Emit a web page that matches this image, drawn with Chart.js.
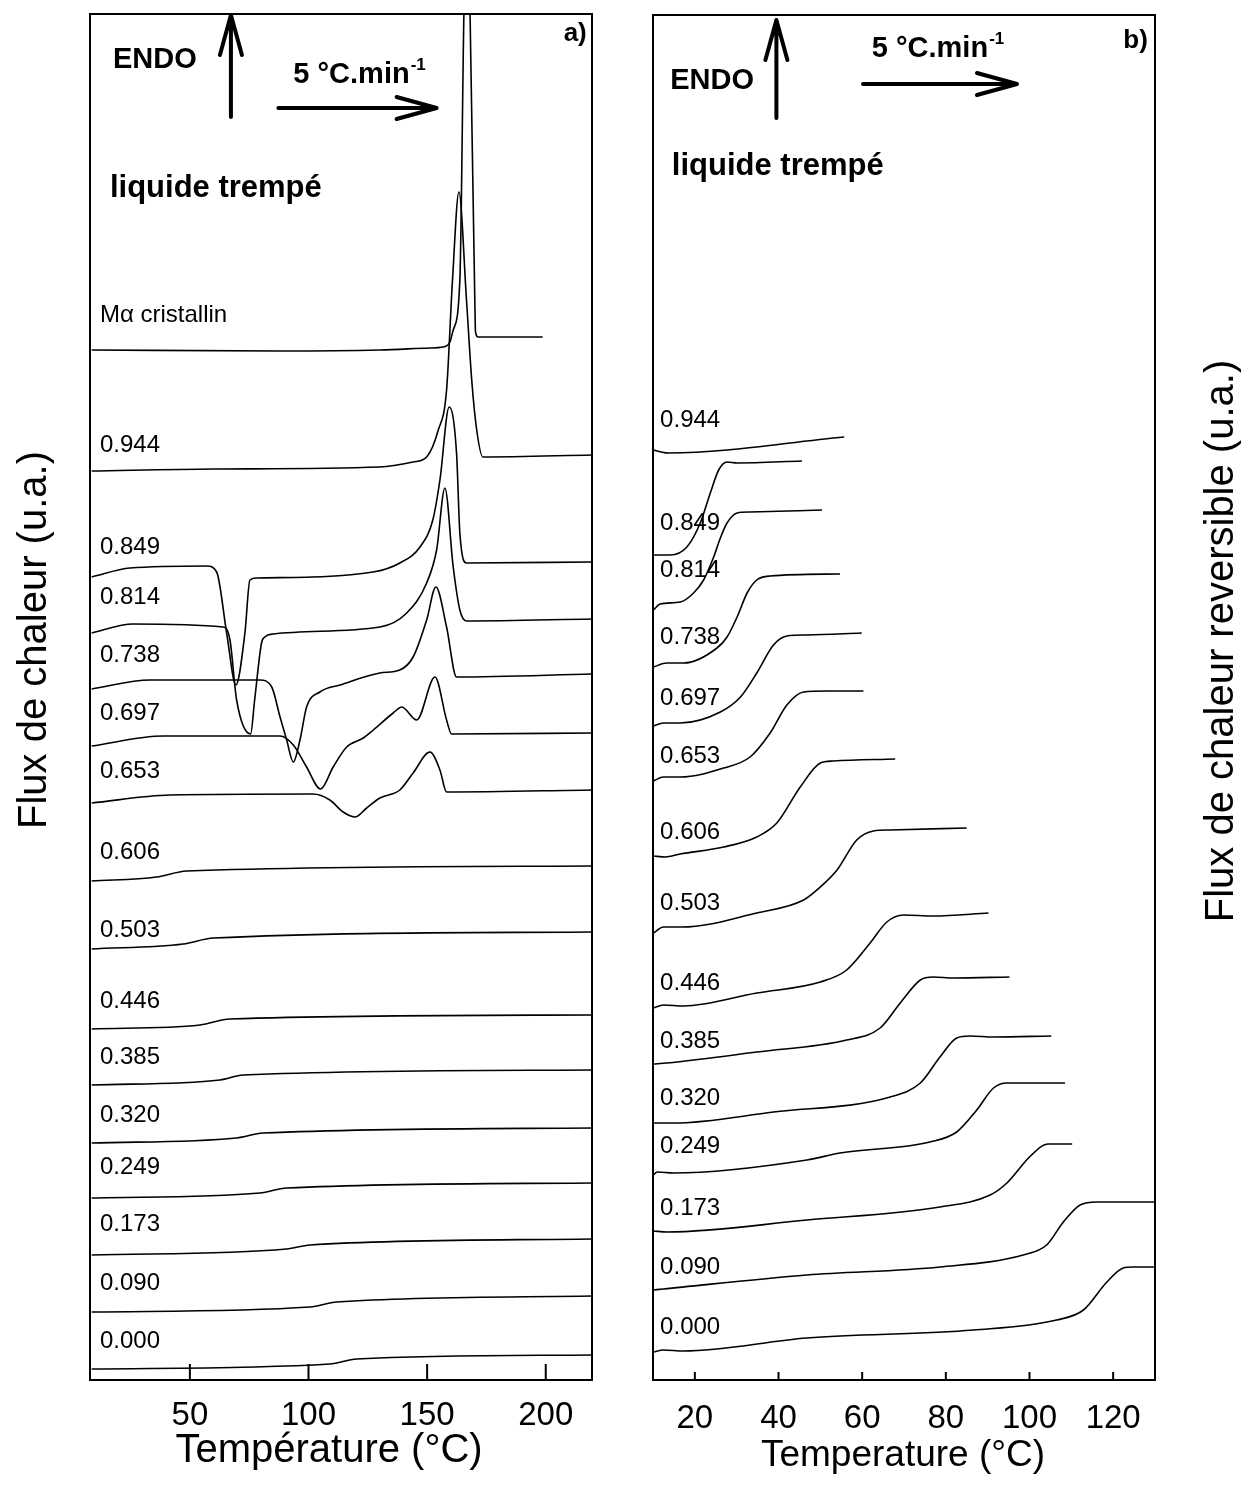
<!DOCTYPE html>
<html>
<head>
<meta charset="utf-8">
<script src="https://cdn.jsdelivr.net/npm/chart.js@4.4.1/dist/chart.umd.min.js"></script>
<style>
  body { margin: 0; background: #fff; }
  #wrap { position: relative; width: 1257px; height: 1497px; }
  canvas { position: absolute; top: 0; }
  #dscA { left: 0; }
  #dscB { left: 610px; }
</style>
</head>
<body>
<div id="wrap">
  <canvas id="dscA" width="610" height="1497"></canvas>
  <canvas id="dscB" width="647" height="1497"></canvas>
</div>
<script>
const FONT = '"Liberation Sans", Arial, Helvetica, sans-serif';

// ---- a) flux de chaleur, chauffe 5 °C/min (x en °C, y en u.a.) ----
const labelsA = ['Mα cristallin', '0.944', '0.849', '0.814', '0.738', '0.697', '0.653',
  '0.606', '0.503', '0.446', '0.385', '0.320', '0.249', '0.173', '0.090', '0.000'];
const ticksA = [50, 100, 150, 200];

const dscMa = [[8.6,103.0],[88.0,102.9],[130.1,103.0],[151.2,103.2],[156.7,103.3],[159.6,103.8],
  [161.0,105.0],[163.8,110.0],[165.5,136.6],[166.8,150.0],[168.1,136.6],[170.1,108.0],[170.4,104.8],
  [171.5,104.3],[198.7,104.3]];
const dsc0944 = [[8.6,90.9],[59.9,91.1],[130.1,91.3],[144.1,91.8],[149.8,92.3],[154.7,95.0],[158.2,99.0],
  [160.7,110.0],[163.4,118.8],[166.6,108.0],[168.8,100.0],[170.9,95.0],[173.5,92.3],[219.5,92.5]];
const dsc0849 = [[8.6,80.3],[24.8,81.2],[57.1,81.4],[61.3,80.8],[65.5,74.7],[69.4,69.5],[73.2,74.7],
  [75.3,80.0],[78.2,80.2],[127.2,80.8],[138.5,81.7],[147.0,83.3],[152.4,86.0],[155.4,90.0],[159.3,97.3],
  [162.4,92.7],[163.8,84.7],[166.6,81.7],[219.5,81.8]];
const dsc0814 = [[8.6,74.7],[26.0,75.6],[64.0,75.3],[66.9,74.0],[69.7,68.0],[75.6,64.6],[77.3,68.0],
  [80.2,73.7],[81.6,74.3],[85.1,74.6],[130.1,75.3],[141.4,76.7],[149.8,79.7],[154.0,83.0],[157.5,89.2],
  [161.0,81.3],[163.8,77.0],[166.6,75.9],[219.5,76.1]];
const dsc0738 = [[8.6,69.1],[33.2,70.0],[79.5,70.0],[84.5,69.3],[88.0,66.3],[90.8,64.0],[93.6,61.8],
  [96.4,64.0],[99.2,67.3],[104.8,68.8],[113.3,69.5],[130.1,70.7],[138.5,71.0],[144.1,72.3],[149.8,76.0],
  [153.7,79.3],[158.2,75.3],[162.4,70.3],[219.5,70.6]];
const dsc0697 = [[8.6,63.4],[38.8,64.4],[88.0,64.4],[93.6,63.5],[99.2,61.3],[105.1,59.1],[110.4,61.3],
  [116.1,63.3],[123.1,64.2],[127.3,65.0],[135.7,66.7],[139.3,67.3],[145.6,66.0],[153.3,70.3],[158.2,66.0],
  [160.3,64.6],[219.5,64.7]];
const dsc0653 = [[8.6,57.7],[41.6,58.5],[102.0,58.6],[109.0,58.0],[114.6,56.8],[119.6,56.3],[124.5,57.2],
  [130.1,58.2],[138.5,59.0],[144.1,60.7],[151.2,62.8],[155.4,61.0],[158.2,58.8],[219.5,59.0]];
const dsc0606 = [[8.6,49.9],[36.0,50.3],[48.6,50.9],[219.5,51.4]];
const dsc0503 = [[8.6,43.1],[47.2,43.6],[59.9,44.2],[219.5,44.8]];
const dsc0446 = [[8.6,35.1],[54.3,35.5],[66.9,36.1],[219.5,36.5]];
const dsc0385 = [[8.6,29.5],[62.7,30.0],[72.5,30.5],[219.5,31.0]];
const dsc0320 = [[8.6,23.7],[69.7,24.2],[80.9,24.7],[219.5,25.2]];
const dsc0249 = [[8.6,18.2],[79.5,18.7],[90.8,19.2],[219.5,19.7]];
const dsc0173 = [[8.6,12.5],[90.8,13.1],[100.6,13.5],[219.5,14.1]];
const dsc0090 = [[8.6,6.8],[100.6,7.3],[111.9,7.8],[219.5,8.4]];
const dsc0000 = [[8.6,1.1],[109.0,1.6],[120.3,2.1],[219.5,2.5]];

const curvesA = [dscMa, dsc0944, dsc0849, dsc0814, dsc0738, dsc0697, dsc0653, dsc0606,
  dsc0503, dsc0446, dsc0385, dsc0320, dsc0249, dsc0173, dsc0090, dsc0000];

// ---- b) flux de chaleur réversible ----
const labelsB = ['0.944', '0.849', '0.814', '0.738', '0.697', '0.653', '0.606', '0.503',
  '0.446', '0.385', '0.320', '0.249', '0.173', '0.090', '0.000'];
const ticksB = [20, 40, 60, 80, 100, 120];

const rev0944 = [[10.1,93.0],[12.0,92.8],[13.7,92.7],[55.7,94.3]];
const rev0849 = [[10.1,82.5],[14.1,82.5],[18.1,83.3],[21.3,85.7],[23.7,88.7],[25.7,91.0],[27.7,91.8],
  [30.1,91.7],[45.6,91.9]];
const rev0814 = [[10.1,77.0],[11.7,77.6],[16.5,77.8],[19.7,78.7],[22.1,80.0],[24.5,82.3],[26.1,84.2],
  [27.7,85.7],[30.1,86.7],[33.2,86.8],[50.4,87.0]];
const rev0738 = [[10.1,71.3],[13.3,71.7],[17.3,71.7],[25.3,73.2],[27.7,74.3],[30.1,76.3],[32.5,78.7],
  [34.8,80.0],[38.0,80.4],[54.7,80.6]];
const rev0697 = [[10.1,65.4],[12.5,65.7],[16.5,65.7],[26.1,66.8],[30.9,68.3],[34.8,70.7],[38.8,73.5],
  [42.0,74.4],[46.8,74.5],[59.9,74.7]];
const rev0653 = [[10.1,59.9],[12.5,60.3],[16.5,60.3],[26.9,61.2],[33.2,62.3],[38.0,64.7],[42.0,67.5],
  [46.0,68.8],[51.6,68.9],[60.3,68.9]];
const rev0606 = [[10.1,52.4],[12.9,52.3],[16.5,52.6],[26.9,53.3],[34.8,54.3],[39.6,55.7],[45.2,59.3],
  [50.0,61.7],[53.1,61.9],[67.9,62.1]];
const rev0503 = [[10.1,44.7],[12.5,45.3],[16.9,45.3],[34.8,46.7],[46.0,48.0],[50.0,49.3],[54.0,51.0],
  [58.7,54.0],[62.7,54.9],[66.7,55.0],[85.0,55.2]];
const rev0446 = [[10.1,37.2],[12.5,37.5],[17.3,37.4],[34.8,38.7],[50.0,39.8],[56.3,41.0],[61.9,43.7],
  [65.9,45.8],[69.9,46.5],[77.0,46.4],[90.2,46.7]];
const rev0385 = [[10.1,31.6],[13.3,31.7],[34.8,32.8],[56.3,34.0],[64.3,35.2],[69.1,37.7],[73.9,40.0],
  [77.0,40.3],[81.8,40.2],[95.2,40.3]];
const rev0320 = [[10.1,25.7],[14.9,25.7],[38.8,26.8],[66.7,28.3],[73.9,29.7],[78.6,32.3],[82.6,34.2],
  [85.8,34.4],[91.4,34.3],[105.2,34.4]];
const rev0249 = [[10.1,20.5],[11.0,20.8],[14.9,20.7],[46.8,22.0],[54.7,22.7],[76.2,23.8],[82.6,24.8],
  [87.4,27.0],[91.4,29.2],[94.6,29.7],[98.5,29.7],[108.5,29.7]];
const rev0173 = [[10.1,14.9],[13.3,14.8],[46.8,16.0],[78.6,17.3],[90.6,18.5],[94.6,19.7],[97.7,21.2],
  [99.3,22.0],[104.5,23.6],[110.2,23.6]];
const rev0090 = [[10.1,9.0],[12.5,9.1],[46.8,10.5],[78.6,11.3],[98.5,12.5],[104.1,13.5],[108.1,15.8],
  [112.1,17.5],[116.1,17.8],[130.0,17.8]];
const rev0000 = [[10.1,2.8],[12.5,3.0],[17.3,2.9],[46.8,4.2],[86.6,5.0],[106.5,6.0],[112.9,7.0],
  [118.5,9.8],[122.4,11.2],[124.8,11.3],[130.0,11.3]];

const curvesB = [rev0944, rev0849, rev0814, rev0738, rev0697, rev0653, rev0606, rev0503,
  rev0446, rev0385, rev0320, rev0249, rev0173, rev0090, rev0000];

// where each composition label sits (x, y in data units)
const labelXA = 12.1;
const labelYA = [106.5, 93.5, 83.3, 78.25, 72.5, 66.7, 60.9, 52.75, 45.0, 37.9, 32.25, 26.45, 21.25, 15.6, 9.7, 3.9];
const labelXB = 11.7;
const labelYB = [96.0, 85.7, 81.0, 74.3, 68.2, 62.4, 54.8, 47.7, 39.7, 33.9, 28.2, 23.4, 17.2, 11.3, 5.3];

// open-headed arrow
function arrow(ctx, x1, y1, x2, y2) {
  const ang = Math.atan2(y2 - y1, x2 - x1);
  const head = 40, half = 11;
  const bx = x2 - head * Math.cos(ang), by = y2 - head * Math.sin(ang);
  const nx = -Math.sin(ang) * half, ny = Math.cos(ang) * half;
  ctx.beginPath();
  ctx.moveTo(x1, y1); ctx.lineTo(x2, y2);
  ctx.moveTo(bx + nx, by + ny); ctx.lineTo(x2, y2); ctx.lineTo(bx - nx, by - ny);
  ctx.stroke();
}

// frame, inward ticks, curve labels, annotations and axis titles
function decor(cfg) {
  return {
    id: 'decor',
    afterDraw(chart) {
      const { ctx, chartArea: a, scales: { x, y } } = chart;
      const X = v => x.getPixelForValue(v), Y = v => y.getPixelForValue(v);
      ctx.save();
      ctx.strokeStyle = '#000';
      ctx.fillStyle = '#000';
      ctx.lineWidth = 2;
      ctx.strokeRect(a.left, a.top, a.right - a.left, a.bottom - a.top);
      x.ticks.forEach(t => {
        ctx.beginPath();
        ctx.moveTo(X(t.value), a.bottom);
        ctx.lineTo(X(t.value), a.bottom - cfg.tickLen);
        ctx.stroke();
      });

      ctx.font = '24px ' + FONT;
      ctx.textAlign = 'left';
      ctx.textBaseline = 'middle';
      cfg.labels.forEach((s, i) => ctx.fillText(s, X(cfg.labelX), Y(cfg.labelY[i])));

      ctx.textBaseline = 'alphabetic';
      cfg.texts.forEach(t => {
        ctx.font = t.font + ' ' + FONT;
        ctx.textAlign = t.align;
        ctx.fillText(t.text, X(t.x), Y(t.y));
      });

      // heating rate with superscript
      ctx.textAlign = 'left';
      ctx.font = 'bold 29px ' + FONT;
      const rx = X(cfg.rate[0]), ry = Y(cfg.rate[1]);
      ctx.fillText('5 °C.min', rx, ry);
      const w = ctx.measureText('5 °C.min').width;
      ctx.font = 'bold 17px ' + FONT;
      ctx.fillText('-1', rx + w + 1, ry - 13);

      ctx.lineWidth = 4;
      ctx.lineCap = 'round';
      ctx.lineJoin = 'round';
      cfg.arrows.forEach(r => arrow(ctx, X(r[0]), Y(r[1]), X(r[2]), Y(r[3])));

      cfg.titles.forEach(t => {
        ctx.save();
        ctx.translate(t.x, t.y);
        ctx.rotate(t.rot);
        ctx.font = t.size + 'px ' + FONT;
        ctx.textAlign = 'center';
        ctx.textBaseline = t.rot ? 'middle' : 'alphabetic';
        ctx.fillText(t.text, 0, 0);
        ctx.restore();
      });
      ctx.restore();
    }
  };
}

function makeChart(id, curves, xMin, xMax, yMax, xTicks, tickPad, padding, deco) {
  return new Chart(document.getElementById(id), {
    type: 'line',
    data: {
      datasets: curves.map(c => ({
        data: c.map(p => ({ x: p[0], y: p[1] })),
        borderColor: '#000',
        borderWidth: 1.6,
        pointRadius: 0,
        cubicInterpolationMode: 'monotone',
        fill: false
      }))
    },
    options: {
      responsive: false,
      animation: false,
      events: [],
      layout: { padding: padding },
      plugins: { legend: { display: false }, tooltip: { enabled: false } },
      scales: {
        x: {
          type: 'linear', min: xMin, max: xMax,
          afterBuildTicks: s => { s.ticks = xTicks.map(v => ({ value: v })); },
          afterFit: s => { s.height = 117; },
          grid: { display: false, drawTicks: false },
          border: { display: false },
          ticks: { color: '#000', font: { family: FONT, size: 33 }, padding: tickPad,
                   maxRotation: 0, autoSkip: false }
        },
        y: { display: false, min: 0, max: yMax }
      }
    },
    plugins: [deco]
  });
}

makeChart('dscA', curvesA, 7.9, 219.5, 136.6, ticksA, 16,
  { left: 90, right: 18, top: 14, bottom: 0 },
  decor({
    tickLen: 16,
    labels: labelsA, labelX: labelXA, labelY: labelYA,
    texts: [
      { text: 'ENDO', x: 17.6, y: 131.2, font: 'bold 29px', align: 'left' },
      { text: 'a)', x: 217.3, y: 133.9, font: 'bold 26px', align: 'right' },
      { text: 'liquide trempé', x: 16.3, y: 118.3, font: 'bold 31px', align: 'left' }
    ],
    rate: [93.6, 129.7],
    arrows: [[67.3, 126.3, 67.3, 136.5], [87.3, 127.2, 154.0, 127.2]],
    titles: [
      { text: 'Température (°C)', x: 329, y: 1462, size: 40, rot: 0 },
      { text: 'Flux de chaleur (u.a.)', x: 35, y: 640, size: 40, rot: -Math.PI / 2 }
    ]
  }));

makeChart('dscB', curvesB, 10, 130, 136.5, ticksB, 19,
  { left: 43, right: 102, top: 15, bottom: 0 },
  decor({
    tickLen: 8,
    labels: labelsB, labelX: labelXB, labelY: labelYB,
    texts: [
      { text: 'ENDO', x: 14.1, y: 129.1, font: 'bold 29px', align: 'left' },
      { text: 'b)', x: 128.3, y: 133.2, font: 'bold 26px', align: 'right' },
      { text: 'liquide trempé', x: 14.5, y: 120.5, font: 'bold 31px', align: 'left' }
    ],
    rate: [62.3, 132.3],
    arrows: [[39.5, 126.2, 39.5, 136.0], [60.2, 129.6, 97.0, 129.6]],
    titles: [
      { text: 'Temperature (°C)', x: 293, y: 1466, size: 37, rot: 0 },
      { text: 'Flux de chaleur reversible (u.a.)', x: 612, y: 641, size: 40, rot: -Math.PI / 2 }
    ]
  }));
</script>
</body>
</html>
